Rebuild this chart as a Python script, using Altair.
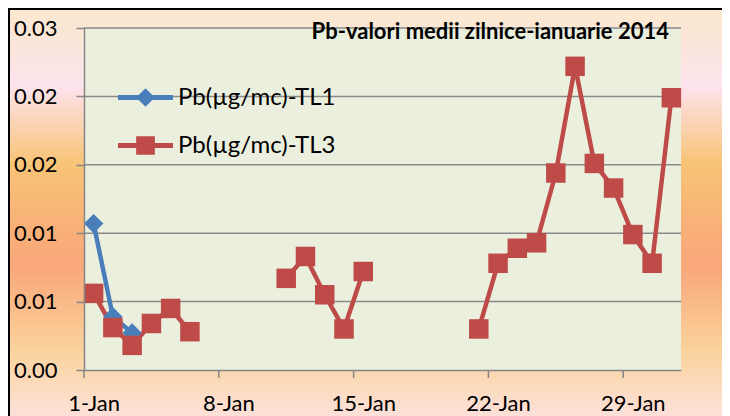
import altair as alt
import pandas as pd

# ---------------- data ----------------
title_text = "Pb-valori medii zilnice-ianuarie 2014"
series_names = ["Pb(µg/mc)-TL1", "Pb(µg/mc)-TL3"]
series_colors = ["#4a7ebb", "#be4b48"]
series_shapes = ["diamond", "square"]

days_tl1 = [1, 2, 3]
values_tl1 = [0.0107, 0.0039, 0.0027]

days_tl3 = [1, 2, 3, 4, 5, 6,
            11, 12, 13, 14, 15,
            21, 22, 23, 24, 25, 26, 27, 28, 29, 30, 31]
values_tl3 = [0.0056, 0.0031, 0.0018, 0.0034, 0.0045, 0.0028,
              0.0067, 0.0083, 0.0055, 0.0030, 0.0072,
              0.0030, 0.0078, 0.0089, 0.0093, 0.0144, 0.0222, 0.0151, 0.0133,
              0.0099, 0.0078, 0.0199]

x_tick_days = [1, 8, 15, 22, 29]
month_label = "Jan"
y_ticks = [0, 0.005, 0.01, 0.015, 0.02, 0.025]
y_tick_labels = ["0.00", "0.01", "0.01", "0.02", "0.02", "0.03"]


def segments(days):
    seg, out = 0, []
    for i, d in enumerate(days):
        if i and d - days[i - 1] > 1:
            seg += 1
        out.append(seg)
    return out


rows = []
for name, days, vals in [(series_names[0], days_tl1, values_tl1),
                         (series_names[1], days_tl3, values_tl3)]:
    for d, v, s in zip(days, vals, segments(days)):
        rows.append({"series": name, "day": d, "value": v, "seg": f"{name}-{s}"})
df = pd.DataFrame(rows)
grid_df = pd.DataFrame({"v": y_ticks[1:]})
tick_df = pd.DataFrame({"d": [d - 1 for d in x_tick_days]})
one = pd.DataFrame({"t": [title_text]})

# ---------------- styling ----------------
W, H = 597, 342
PAD = {"left": 76, "top": 20, "right": 41, "bottom": 46}
FONT = "Lato"
AXIS_GRAY = "#868686"

x_scale = alt.Scale(domain=[0, 31], nice=False, zero=False)
y_scale = alt.Scale(domain=[0, 0.025], nice=False, zero=True)

y_label_expr = "[" + ",".join(f"'{s}'" for s in y_tick_labels) + "][round(datum.value / 0.005)]"

x_axis = alt.Axis(values=[d - 0.5 for d in x_tick_days],
                  labelExpr=f"(datum.value + 0.5) + '-{month_label}'",
                  grid=False, title=None, ticks=False,
                  domainColor=AXIS_GRAY, domainWidth=1.5,
                  labelFont=FONT, labelFontSize=22, labelColor="black",
                  labelPadding=23, zindex=1)
y_axis = alt.Axis(values=y_ticks, labelExpr=y_label_expr, grid=False, title=None,
                  tickSize=8, tickWidth=1.5, tickColor=AXIS_GRAY,
                  domainColor=AXIS_GRAY, domainWidth=1.5,
                  labelFont=FONT, labelFontSize=22, labelColor="black",
                  labelPadding=19, zindex=1)

# legend symbols: line segment with the series marker, in the [-1, 1] symbol box
legend_paths = [
    "M-1,-0.09H1V0.09H-1Z M0,-0.34L0.34,0L0,0.34L-0.34,0Z",
    "M-1,-0.09H1V0.09H-1Z M-0.34,-0.34H0.34V0.34H-0.34Z",
]
legend_rows_y = [42, 90]


def make_legend(i):
    return alt.Legend(
        orient="none", legendX=34, legendY=legend_rows_y[i], title=None,
        labelFont=FONT, labelFontSize=24, labelColor="black",
        symbolSize=3025, symbolStrokeWidth=0, symbolOpacity=1, labelOffset=5,
        symbolFillColor=series_colors[i], padding=0,
    )


color_scale = alt.Scale(domain=series_names, range=series_colors)

gradient = alt.Gradient(
    gradient="linear", x1=0, x2=0, y1=0, y2=1,
    stops=[
        alt.GradientStop(color="#fbe8cf", offset=0.0),
        alt.GradientStop(color="#fbe6d8", offset=0.08),
        alt.GradientStop(color="#fde3ee", offset=0.19),
        alt.GradientStop(color="#f8c477", offset=0.38),
        alt.GradientStop(color="#f9b477", offset=0.50),
        alt.GradientStop(color="#f9a77a", offset=0.635),
        alt.GradientStop(color="#fad39c", offset=0.84),
        alt.GradientStop(color="#fde1d9", offset=1.0),
    ],
)

bg = alt.Chart(one).mark_rect(fill=gradient, clip=False).encode(
    x=alt.value(-PAD["left"]), x2=alt.value(W + PAD["right"]),
    y=alt.value(-PAD["top"]), y2=alt.value(H + PAD["bottom"]),
)
border_top = alt.Chart(one).mark_rule(color="black", strokeWidth=2, clip=False).encode(
    x=alt.value(-PAD["left"]), x2=alt.value(W + PAD["right"]),
    y=alt.value(-PAD["top"] + 1),
)
border_left = alt.Chart(one).mark_rule(color="black", strokeWidth=2, clip=False).encode(
    x=alt.value(-PAD["left"] + 1),
    y=alt.value(-PAD["top"]), y2=alt.value(H + PAD["bottom"]),
)
plot_bg = alt.Chart(one).mark_rect(fill="#ebefde").encode(
    x=alt.value(0), x2=alt.value("width"), y=alt.value(0), y2=alt.value("height"),
)
grid = alt.Chart(grid_df).mark_rule(color="#8a8a8a", strokeWidth=1.5).encode(
    y=alt.Y("v:Q", scale=y_scale, axis=y_axis),
    x=alt.value(0), x2=alt.value("width"),
)
xticks = alt.Chart(tick_df).mark_rule(color=AXIS_GRAY, strokeWidth=1.5, clip=False).encode(
    x=alt.X("d:Q", scale=x_scale, axis=x_axis),
    y=alt.value(H), y2=alt.value(H + 8),
)

base = alt.Chart(df).transform_calculate(pos="datum.day - 0.5")

lines = base.mark_line(strokeWidth=4.5).encode(
    x=alt.X("pos:Q", scale=x_scale, axis=x_axis),
    y=alt.Y("value:Q", scale=y_scale, axis=y_axis),
    color=alt.Color("series:N", scale=color_scale, legend=None),
    detail="seg:N",
)
points = base.mark_point(filled=True, size=380, opacity=1).encode(
    x=alt.X("pos:Q", scale=x_scale, axis=x_axis),
    y=alt.Y("value:Q", scale=y_scale, axis=y_axis),
    color=alt.Color("series:N", scale=color_scale, legend=None),
    shape=alt.Shape("series:N", scale=alt.Scale(domain=series_names, range=series_shapes), legend=None),
)
legend_layers = [
    base.transform_filter("false").mark_point(filled=True, color=series_colors[i]).encode(
        x=alt.X("pos:Q", scale=x_scale, axis=x_axis),
        y=alt.Y("value:Q", scale=y_scale, axis=y_axis),
        shape=alt.Shape("series:N",
                        scale=alt.Scale(domain=[series_names[i]], range=[legend_paths[i]]),
                        legend=make_legend(i)),
    )
    for i in range(len(series_names))
]
title = alt.Chart(one).mark_text(
    font=FONT, fontSize=22, fontWeight="bold", align="right", baseline="alphabetic", color="black"
).encode(
    text="t:N", x=alt.value(W - 12), y=alt.value(11),
)

chart = alt.layer(bg, border_top, border_left, plot_bg, grid, xticks, lines, points,
                  *legend_layers, title).resolve_scale(
    shape="independent"
).properties(
    width=W, height=H,
    autosize=alt.AutoSizeParams(type="none"),
    padding=PAD,
).configure_view(stroke=None)

chart.save("out.html", embed_options={"renderer": "svg", "actions": False})
